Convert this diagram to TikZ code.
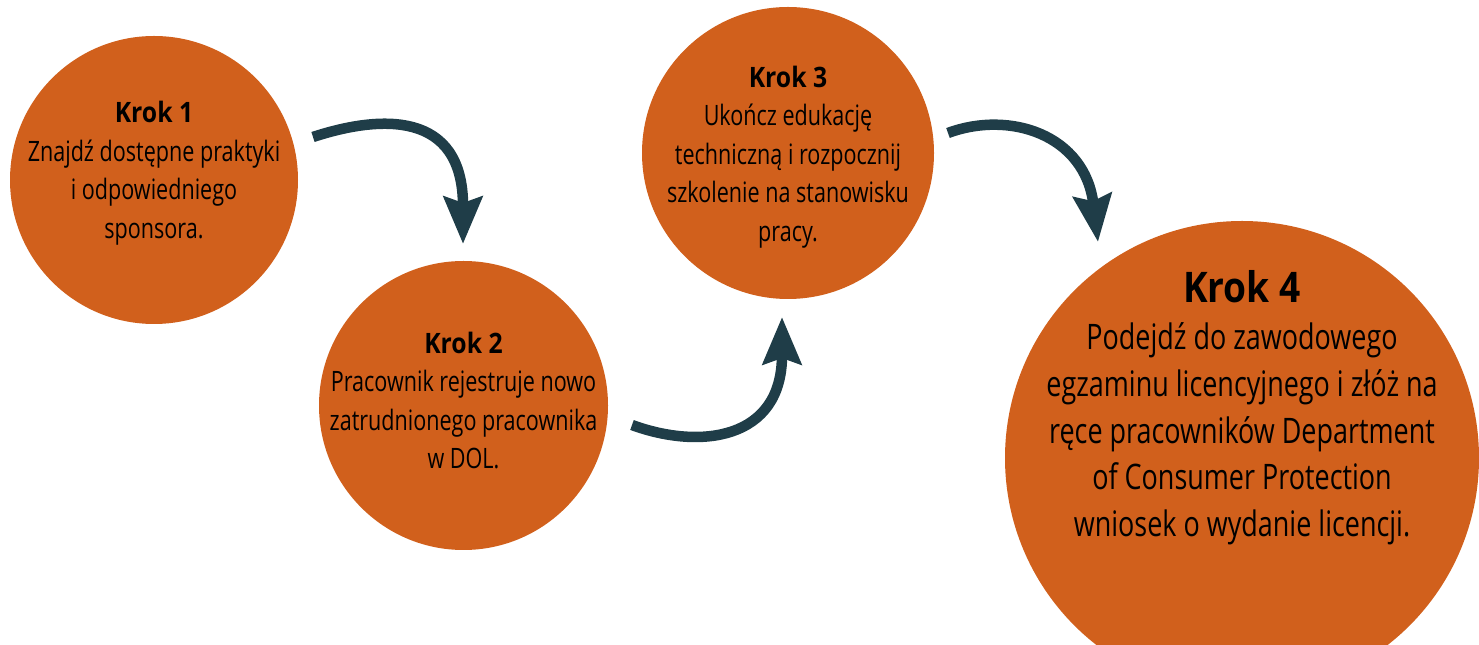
\documentclass[tikz,border=0pt]{standalone}
\usepackage{fontspec}
\setmainfont{Open Sans}[FakeStretch=0.767, BoldFeatures={FakeStretch=0.88}]
\usetikzlibrary{arrows.meta}
\definecolor{krokorange}{HTML}{D1601C}
\definecolor{strzalka}{HTML}{1F3D48}
\tikzset{
  krok/.style={circle, fill=krokorange, inner sep=0pt},
  opis/.style={align=center, text=black, font=\fontsize{16}{21.9}\selectfont},
  opisduzy/.style={align=center, text=black, font=\fontsize{20}{26.6}\selectfont},
  strzal/.style={line width=0.21cm, draw=strzalka,
    -{Stealth[length=0.94cm, width=0.76cm, inset=0.12cm]}}
}
\begin{document}
\begin{tikzpicture}
		\useasboundingbox (0,0) rectangle (29.58,12.9);
		\clip (0,0) rectangle (29.58,12.9);
		\node[krok, minimum size=5.76cm] (k1) at (3.08,9.30) {};
		\node[krok, minimum size=5.78cm] (k2) at (9.27,4.79) {};
		\node[krok, minimum size=5.84cm] (k3) at (15.76,9.84) {};
		\node[krok, minimum size=9.48cm] (k4) at (24.84,3.74) {};
		\node[opis] (t1) at ([yshift=0.14cm]k1) {{\bfseries Krok 1}\\Znajdź dostępne praktyki\\i odpowiedniego\\sponsora.};
		\node[opis] (t2) at ([yshift=0.1cm]k2) {{\bfseries Krok 2}\\Pracownik rejestruje nowo\\zatrudnionego pracownika\\w DOL.};
		\node[opis] (t3) at ([yshift=-0.08cm]k3) {{\bfseries Krok 3}\\Ukończ edukację\\techniczną i rozpocznij\\szkolenie na stanowisku\\pracy.};
		\node[opisduzy] (t4) at ([yshift=1.0cm]k4) {{\fontsize{24}{30}\selectfont\bfseries Krok 4}\\Podejdź do zawodowego\\egzaminu licencyjnego i złóż na\\ręce pracowników Department\\of Consumer Protection\\wniosek o wydanie licencji.};
		\coordinate (a1) at (6.26,10.16);
		\coordinate (b1) at (9.26,8.02);
		\coordinate (a2) at (12.64,4.40);
		\coordinate (b2) at (15.64,6.56);
		\coordinate (a3) at (18.96,10.24);
		\coordinate (b3) at (21.96,8.06);
		\draw[strzal] (a1) .. controls (7.60,10.60) and (9.26,10.70) .. (b1);
		\draw[strzal] (a2) .. controls (14.00,3.90) and (15.64,4.10) .. (b2);
		\draw[strzal] (a3) .. controls (20.20,10.70) and (21.70,10.20) .. (b3);
\end{tikzpicture}
\end{document}
